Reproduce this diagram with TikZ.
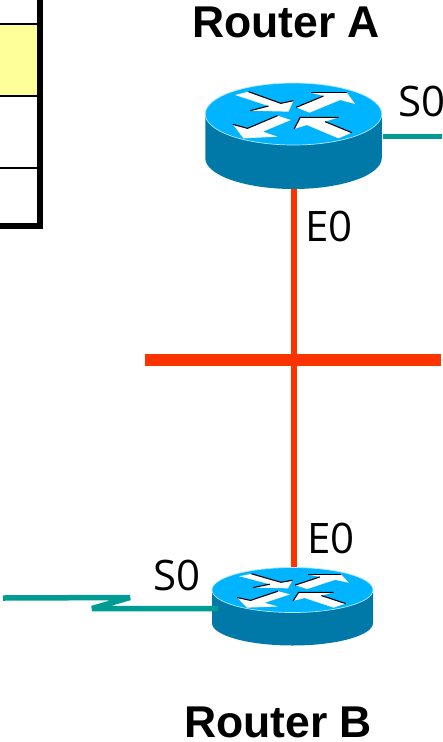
\documentclass[tikz,border=0pt]{standalone}
\usepackage{fontspec}
\setmainfont{Liberation Sans}
\newfontfamily\labfont{Open Sans}
\definecolor{rtop}{HTML}{00B4FF}
\definecolor{rside}{HTML}{0078A8}
\definecolor{serial}{HTML}{009C94}
\definecolor{lan}{HTML}{FF3300}
\definecolor{cellyellow}{HTML}{FFFF99}
\tikzset{
  x=1pt,y=-1pt,
  lanline/.style={draw=lan,line width=5.5pt},
  busline/.style={draw=lan,line width=11.5pt},
  serialline/.style={draw=serial,line width=5.5pt,line join=bevel},
  tableline/.style={draw=black,line width=2.4pt},
  tableframe/.style={draw=black,line width=6pt},
  portlabel/.style={font=\fontsize{42}{42}\selectfont\labfont,inner sep=0pt,text=black},
  routerlabel/.style={font=\fontsize{44.5}{44.5}\selectfont\bfseries,inner sep=0pt,text=black},
  box/.style={inner sep=0pt,outer sep=0pt,draw=none,rectangle},
  arrowfill/.style={fill=white,draw=none},
  arrowedge/.style={draw=black,line width=1.1pt},
}
% #1 centre x, #2 centre y of top ellipse, #3 rx, #4 ry, #5 side height
\newcommand{\routershape}[5]{%
  \fill[rside] (#1-#3,#2) -- (#1-#3,#2+#5) arc[start angle=180,end angle=360,x radius=#3,y radius=-#4] -- (#1+#3,#2) -- cycle;
  \fill[rtop,draw=white!70!rtop,line width=.7pt] (#1,#2) ellipse[x radius=#3,y radius=#4];
  \begin{scope}[shift={(#1,#2)},xscale=#3/88.25,yscale=#4/31]
    \begin{scope}[x=1pt/3,y=-1pt/3]
    \fill[arrowfill] (-175,-57)--(-135,-67)--(-38,-32)--(0,-40)--(-15,-7)--(-130,-10)--(-75,-24)--cycle;
    \fill[arrowfill] (8,-20)--(90,-54)--(52,-64)--(160,-64)--(185,-30)--(140,-42)--(48,-4)--cycle;
    \fill[arrowfill] (-8,18)--(-48,5)--(-138,43)--(-182,31)--(-150,73)--(-48,68)--(-92,53)--cycle;
    \fill[arrowfill] (2,45)--(20,10)--(135,10)--(95,23)--(175,56)--(135,73)--(40,33)--cycle;
    \draw[arrowedge] (-135,-67)--(-38,-32)--(0,-40);
    \draw[arrowedge] (-130,-10)--(-75,-24);
    \draw[arrowedge] (8,-20)--(90,-54);
    \draw[arrowedge] (52,-64)--(160,-64);
    \draw[arrowedge] (-48,5)--(-138,43)--(-182,31);
    \draw[arrowedge] (2,45)--(20,10)--(135,10);
    \draw[arrowedge] (95,23)--(175,56);
    \end{scope}
  \end{scope}%
}
\begin{document}
\begin{tikzpicture}
\useasboundingbox (0,0) rectangle (442,742);
\begin{scope}
\clip (0,0) rectangle (442,742);
% table
\fill[cellyellow] (0,24) rectangle (37,96);
\draw[tableline] (0,24) -- (38,24);
\draw[tableline] (0,96) -- (38,96);
\draw[tableline] (0,168) -- (38,168);
\draw[tableframe] (40,0) -- (40,229) ;
\draw[tableframe] (0,226) -- (43,226);
% invisible anchors
\node[box,minimum width=176.5pt,minimum height=105pt] (ra) at (293.5,135.5) {};
\node[box,minimum width=161pt,minimum height=78pt] (rb) at (292.5,606) {};
\node[box,minimum width=296pt,minimum height=11.5pt] (bus) at (293,360) {};
\coordinate (sa) at (442,136.5);
\coordinate (sb) at (3,598);
\coordinate (bja) at (130,597.5);
\coordinate (bjb) at (92,608.5);
\coordinate (rbs) at (218,608.5);
\coordinate (ras) at (383,136.5);
% links
\draw[lanline] (294,188) -- (294,567);
\draw[busline] (bus.west) -- (bus.east);
\draw[serialline] (ras) -- (sa);
% routers
\routershape{293.5}{114}{88.25}{31}{44}
\routershape{292.5}{590}{80.5}{22.5}{33}
\draw[serialline] (sb) -- (bja) -- (bjb) -- (rbs);
% labels
\node[routerlabel] (la) at (286,22) {Router A};
\node[routerlabel] (lb) at (278,722) {Router B};
\node[portlabel,anchor=west] (s0a) at (398,101) {S0};
\node[portlabel,anchor=west] (e0a) at (305,226.5) {E0};
\node[portlabel,anchor=west] (e0b) at (307,538.5) {E0};
\node[portlabel,anchor=west] (s0b) at (153,575.5) {S0};
\end{scope}
\end{tikzpicture}
\end{document}
